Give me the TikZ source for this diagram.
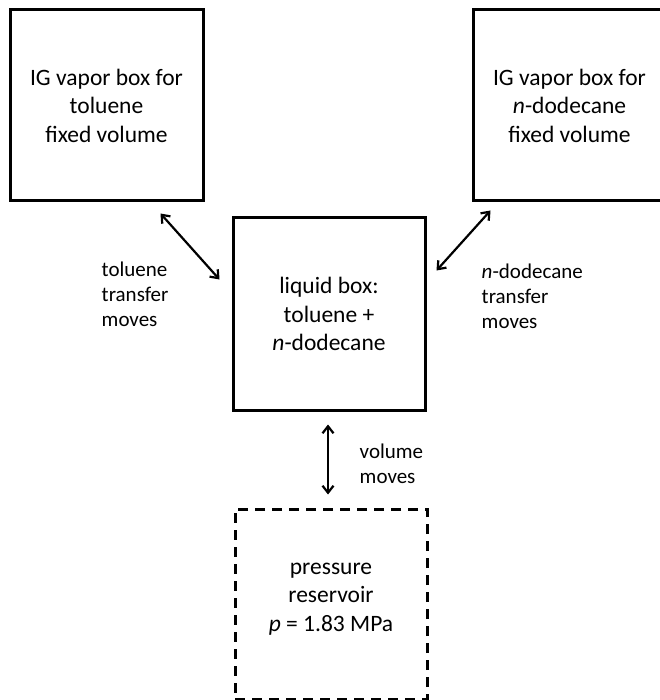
\documentclass[tikz,border=0pt]{standalone}
\usepackage{fontspec}
\setmainfont{Carlito}
\usetikzlibrary{arrows.meta}

\begin{document}
\begin{tikzpicture}[x=1pt, y=-1pt, thick,
    box/.style = {rectangle, draw, line width=3pt, align=center, font=\fontsize{23.5}{28.5}\selectfont},
    lbl/.style = {anchor=west, align=left, font=\fontsize{21}{25}\selectfont},
    move/.style = {{Straight Barb[length=7pt,width=11pt]}-{Straight Barb[length=7pt,width=11pt]}, line width=2.2pt}]
			\useasboundingbox (0,0) rectangle (659,700);
			\node[box, minimum width=193pt, minimum height=191pt] (vapT) at (106.5,105.5) {IG vapor box for\\toluene\\fixed volume};
			\node[box, minimum width=193pt, minimum height=191pt] (vapD) at (569.5,105.5) {IG vapor box for\\\textit{n}-dodecane\\fixed volume};
			\node[box, minimum width=192pt, minimum height=192pt] (liq) at (329,314) {liquid box:\\toluene +\\\textit{n}-dodecane};
			\node[box, dash pattern=on 10pt off 7pt, minimum width=192pt, minimum height=190pt, text depth=14pt] (res) at (331,604) {pressure\\reservoir\\\textit{p} = 1.83 MPa};
			\node[lbl] (tolL) at (98,294) {toluene\\transfer\\moves};
			\node[lbl] (dodL) at (478,296) {\textit{n}-dodecane\\transfer\\moves};
			\node[lbl] (volL) at (356,464) {volume\\moves};
			\path[move]
				([xshift=-44pt,yshift=-11pt]vapT.south east) edge ([xshift=-12pt,yshift=-63pt]liq.north west)
				([xshift=19pt,yshift=-8pt]vapD.south west) edge ([xshift=10pt,yshift=-54pt]liq.north east)
				([xshift=-1pt,yshift=-13pt]liq.south) edge ([xshift=-3pt,yshift=13pt]res.north);
		\end{tikzpicture}
\end{document}
